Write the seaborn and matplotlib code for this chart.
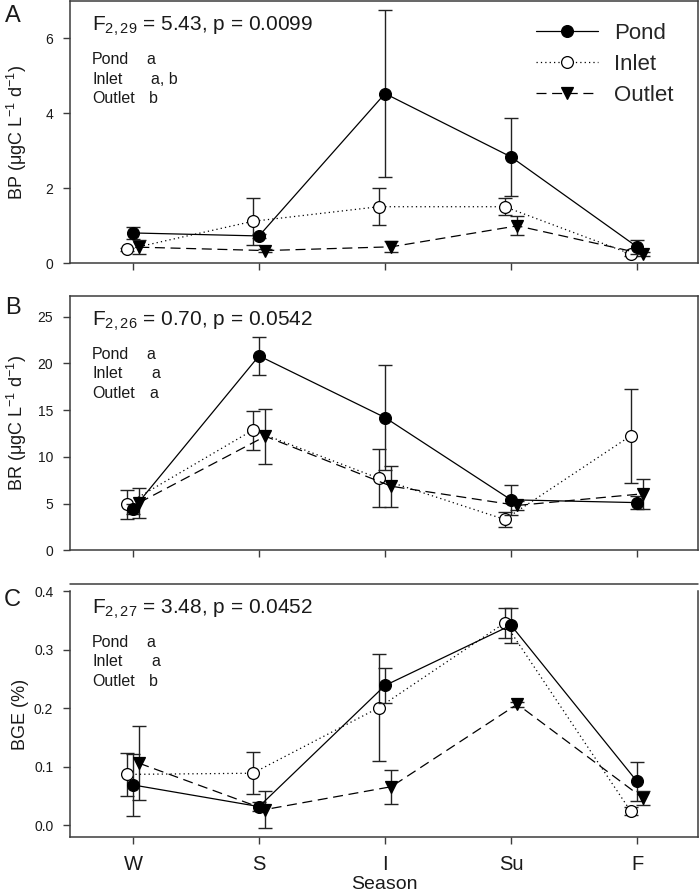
import matplotlib
matplotlib.use('Agg')
import matplotlib.pyplot as plt
from matplotlib.lines import Line2D
import numpy as np
import pandas as pd
import seaborn as sns

# seasons on the x axis
seasons = ['W', 'S', 'I', 'Su', 'F']
sites = ['Pond', 'Inlet', 'Outlet']

# BP (ugC L-1 d-1): means and standard errors
bp_mean = {'Pond': [0.81, 0.73, 4.53, 2.84, 0.44],
           'Inlet': [0.37, 1.12, 1.51, 1.51, 0.25],
           'Outlet': [0.43, 0.34, 0.44, 1.00, 0.25]}
bp_err = {'Pond': [0.17, 0.06, 2.23, 1.04, 0.18],
          'Inlet': [0.05, 0.62, 0.49, 0.23, 0.05],
          'Outlet': [0.18, 0.05, 0.15, 0.25, 0.05]}

# BR (ugC L-1 d-1)
br_mean = {'Pond': [4.4, 20.8, 14.2, 5.4, 5.1],
           'Inlet': [4.95, 12.85, 7.7, 3.3, 12.25],
           'Outlet': [5.1, 12.2, 6.85, 4.8, 6.05]}
br_err = {'Pond': [0.5, 2.0, 5.6, 1.6, 0.7],
          'Inlet': [1.55, 2.1, 3.1, 0.8, 5.0],
          'Outlet': [1.6, 2.95, 2.2, 0.5, 1.6]}

# BGE (%)
bge_mean = {'Pond': [0.069, 0.032, 0.239, 0.342, 0.075],
            'Inlet': [0.087, 0.089, 0.201, 0.346, 0.024],
            'Outlet': [0.106, 0.027, 0.066, 0.207, 0.046]}
bge_err = {'Pond': [0.053, 0.008, 0.03, 0.03, 0.034],
           'Inlet': [0.037, 0.036, 0.091, 0.026, 0.007],
           'Outlet': [0.063, 0.031, 0.029, 0.004, 0.012]}

stats = [r'F$_{2,29}$ = 5.43, p = 0.0099',
         r'F$_{2,26}$ = 0.70, p = 0.0542',
         r'F$_{2,27}$ = 3.48, p = 0.0452']
letters = [['a', 'a, b', 'b'], ['a', 'a', 'a'], ['a', 'a', 'b']]
ylabels = [r'BP (μgC L$^{-1}$ d$^{-1}$)', r'BR (μgC L$^{-1}$ d$^{-1}$)', 'BGE (%)']

sns.set_style('ticks')
plt.rcParams['font.family'] = ['Liberation Sans', 'DejaVu Sans']
plt.rcParams['mathtext.default'] = 'regular'

spine_col = '#3c3c3c'
txt_col = '#1a1a1a'
style = {
    'Pond': dict(linestyle='-', marker='o', markerfacecolor='black', dodge=0.0, z=5),
    'Inlet': dict(linestyle=(0, (1, 2.5)), marker='o', markerfacecolor='white', dodge=-0.05, z=3),
    'Outlet': dict(linestyle=(0, (8, 4.5)), marker='v', markerfacecolor='black', dodge=0.05, z=4),
}

W, H = 700, 894
fig = plt.figure(figsize=(W / 100, H / 100), dpi=100)
# panel boxes in pixels: top, bottom
boxes = [(1, 263.3), (296, 550.3), (591, 837.3)]
ax_left, ax_right = 70, 698
axs = []
for top, bot in boxes:
    axs.append(fig.add_axes([ax_left / W, 1 - bot / H, (ax_right - ax_left) / W, (bot - top) / H]))

panels = [(bp_mean, bp_err), (br_mean, br_err), (bge_mean, bge_err)]
ylims = [(0, 7.0), (0, 27.2), (-0.0205, 0.4005)]
yticks = [[0, 2, 4, 6], [0, 5, 10, 15, 20, 25], [0.0, 0.1, 0.2, 0.3, 0.4]]
frame_tops = [1, 296, 584]
xpos = np.arange(len(seasons))

for i, ax in enumerate(axs):
    means, errs = panels[i]
    for site in ['Inlet', 'Outlet', 'Pond']:
        st = style[site]
        df = pd.DataFrame({'x': xpos + st['dodge'], 'y': means[site], 'e': errs[site]})
        ax.errorbar(df['x'], df['y'], yerr=df['e'], fmt='none', ecolor='#222222',
                    elinewidth=1.0, capsize=5, capthick=1.0, zorder=st['z'] - 2)
        sns.lineplot(data=df, x='x', y='y', ax=ax, color='black', linewidth=0.9,
                     linestyle=st['linestyle'], marker=st['marker'], markersize=8.5,
                     markerfacecolor=st['markerfacecolor'], markeredgecolor='black',
                     markeredgewidth=0.9, label=site, zorder=st['z'], sort=False)
    ax.set_xlim(-0.5, 4.484)
    ax.set_ylim(*ylims[i])
    ax.set_yticks(yticks[i])
    if i == 2:
        ax.set_yticklabels(['%.1f' % v for v in yticks[i]])
    ax.set_xticks(xpos)
    if i == 2:
        ax.set_xticklabels(seasons)
        ax.set_xlabel('Season', fontsize=14, labelpad=1, color=txt_col)
    else:
        ax.set_xticklabels([])
        ax.set_xlabel('')
    ax.set_ylabel(ylabels[i], fontsize=13, color=txt_col)
    ax.yaxis.set_label_coords(-0.066, 0.5)
    ax.tick_params(axis='y', direction='out', length=5, width=1, pad=7,
                   labelsize=10, colors=spine_col, labelcolor=txt_col)
    ax.tick_params(axis='x', direction='out', length=5, width=1, pad=8,
                   labelsize=14.5, colors=spine_col, labelcolor=txt_col)
    for s in ax.spines.values():
        s.set_visible(True)
        s.set_color(spine_col)
        s.set_linewidth(1.1)
    if i == 2:
        ax.spines['top'].set_visible(False)

    # statistics text
    top = frame_tops[i]
    bot = boxes[i][1]
    hgt = bot - boxes[i][0]

    def fy(py):
        return (bot - py) / hgt

    ax.text((92 - ax_left) / (ax_right - ax_left), fy(top + 30), stats[i],
            transform=ax.transAxes, fontsize=15, va='baseline', ha='left', color=txt_col)
    for k, site in enumerate(sites):
        ax.text((92 - ax_left) / (ax_right - ax_left), fy(top + 63 + 19.5 * k), site,
                transform=ax.transAxes, fontsize=11.5, va='baseline', ha='left', color=txt_col)
        lx = [146, 151, 149][k]
        ax.text((lx - ax_left) / (ax_right - ax_left), fy(top + 63 + 19.5 * k), letters[i][k],
                transform=ax.transAxes, fontsize=11.5, va='baseline', ha='left', color=txt_col)
    if ax.get_legend() is not None:
        ax.get_legend().remove()

# legend in panel A
handles, labels = axs[0].get_legend_handles_labels()
order = [labels.index(s) for s in sites]
axs[0].legend([handles[j] for j in order], sites, loc='upper left',
              bbox_to_anchor=((536 - ax_left) / (ax_right - ax_left), (263.3 - 23) / 262.3),
              frameon=False, fontsize=16, handlelength=2.8, handletextpad=0.7,
              labelspacing=0.45, borderaxespad=0, borderpad=0)

# top line of panel C extends across
fig.add_artist(Line2D([ax_left / W, ax_right / W], [1 - 584 / H] * 2,
                      color=spine_col, linewidth=1.1))

# panel letters
for lab, py in zip(['A', 'B', 'C'], [15.5, 308, 600]):
    fig.text(12.5 / W, 1 - py / H, lab, fontsize=17, ha='center', va='center', color=txt_col)

fig.savefig('out.png', dpi=100)
